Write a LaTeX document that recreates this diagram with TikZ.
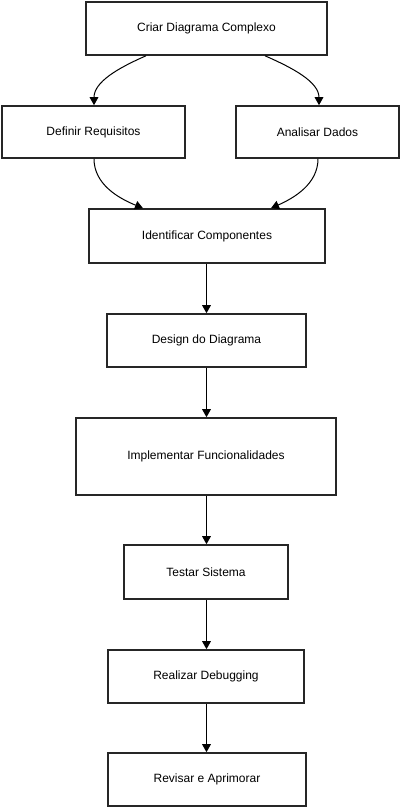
\documentclass[tikz,border=0pt]{standalone}
\usepackage{fontspec}
\setmainfont{Liberation Sans}
\usetikzlibrary{arrows.meta}
\begin{document}
\begin{tikzpicture}[x=0.75pt,y=-0.75pt,
  box/.style={draw=black!85,line width=1.2pt,fill=white,inner sep=0pt,font=\fontsize{9}{11}\selectfont},
  conn/.style={draw=black,line width=0.75pt,-{Triangle[length=6pt,width=6.5pt]}}]
\useasboundingbox (0,0) rectangle (401,808);
\newcommand{\bx}[6]{\node[box,minimum width={(#4-#2)*0.75pt},minimum height={(#5-#3)*0.75pt}] (#1) at ({(#2+#4)/2},{(#3+#5)/2}) {#6};}
\bx{a}{86}{2}{327}{55}{Criar Diagrama Complexo}
\bx{b}{2}{106}{185}{158}{Definir Requisitos}
\bx{c}{236}{106}{399}{158}{Analisar Dados}
\bx{d}{89}{209}{325}{263}{Identificar Componentes}
\bx{e}{107}{314}{306}{367}{Design do Diagrama}
\bx{f}{76}{418}{336}{495}{Implementar Funcionalidades}
\bx{g}{124}{545}{288}{599}{Testar Sistema}
\bx{h}{108}{650}{304}{703}{Realizar Debugging}
\bx{i}{108}{753}{306}{806}{Revisar e Aprimorar}
\draw[conn] (a.south -| 146,0) .. controls (118,68) and (94,82) .. (b.north -| 94,0);
\draw[conn] (a.south -| 265,0) .. controls (293,68) and (319,82) .. (c.north -| 319,0);
\draw[conn] (b.south -| 94,0) .. controls (94,184) and (118,198) .. (d.north -| 143,0);
\draw[conn] (c.south -| 318,0) .. controls (318,184) and (294,198) .. (d.north -| 271,0);
\draw[conn] (d.south -| 206.5,0) -- (e.north -| 206.5,0);
\draw[conn] (e.south -| 206.5,0) -- (f.north -| 206.5,0);
\draw[conn] (f.south -| 206.5,0) -- (g.north -| 206.5,0);
\draw[conn] (g.south -| 206.5,0) -- (h.north -| 206.5,0);
\draw[conn] (h.south -| 206.5,0) -- (i.north -| 206.5,0);
\end{tikzpicture}
\end{document}
